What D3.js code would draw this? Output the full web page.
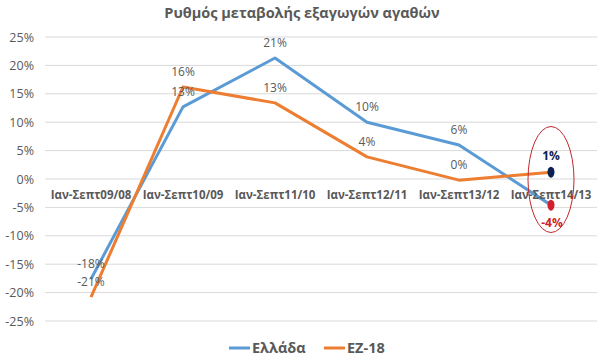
<!DOCTYPE html>
<html><head><meta charset="utf-8">
<script src="https://cdn.jsdelivr.net/npm/d3@7"></script>
<style>body{margin:0;background:#fff}svg{display:block;font-family:"Open Sans","Noto Sans",sans-serif}</style>
</head><body><svg id="c" width="600" height="357"></svg>
<script>
const categories = ["Ιαν-Σεπτ09/08","Ιαν-Σεπτ10/09","Ιαν-Σεπτ11/10","Ιαν-Σεπτ12/11","Ιαν-Σεπτ13/12","Ιαν-Σεπτ14/13"];
const greece = [-17.6, 12.7, 21.3, 10.0, 6.0, -4.6];
const ez18 = [-20.8, 16.2, 13.4, 3.9, -0.2, 1.2];
const greeceLabels = ["-18%","13%","21%","10%","6%","-4%"];
const ez18Labels = ["-21%","16%","13%","4%","0%","1%"];
const yTicks = [25,20,15,10,5,0,-5,-10,-15,-20,-25];
const seriesNames = ["Ελλάδα","EZ-18"];
const title = "Ρυθμός μεταβολής εξαγωγών αγαθών";

const svg = d3.select("#c");
const x = d3.scaleBand().domain(categories).range([45, 597]);
const y = d3.scaleLinear().domain([-25, 25]).range([321, 37]);
const cx = c => x(c) + x.bandwidth()/2;
const gray = "#595959";

// grid
svg.append("g").selectAll("line").data(yTicks).join("line")
  .attr("x1", 45).attr("x2", 597).attr("y1", d => y(d)).attr("y2", d => y(d))
  .attr("stroke", "#d9d9d9").attr("stroke-width", 1);

// y axis
const ya = svg.append("g").attr("transform", "translate(42,0)")
  .call(d3.axisLeft(y).tickValues(yTicks).tickSize(0).tickPadding(8).tickFormat(d => d + "%"));
ya.select(".domain").remove();
ya.selectAll("text").attr("fill", gray).attr("font-size", 12.5).attr("font-family", "Open Sans");

// title
svg.append("text").attr("x", 302).attr("y", 18).attr("text-anchor", "middle")
  .attr("font-size", 14.5).attr("font-weight", "bold").attr("fill", gray).text(title);

// lines
const line = d3.line().x((d,i) => cx(categories[i])).y(d => y(d));
svg.append("path").datum(greece).attr("d", line).attr("fill", "none")
  .attr("stroke", "#5B9BD5").attr("stroke-width", 3).attr("stroke-linejoin", "round");
svg.append("path").datum(ez18).attr("d", line).attr("fill", "none")
  .attr("stroke", "#ED7D31").attr("stroke-width", 3).attr("stroke-linejoin", "round");

// category labels
const xa = svg.append("g").attr("transform", `translate(0,${y(0)})`)
  .call(d3.axisBottom(x).tickSize(0).tickPadding(12));
xa.select(".domain").remove();
xa.selectAll("text").attr("fill", gray).attr("font-size", 11.5).attr("font-weight", "bold").attr("font-family", "Open Sans");

// data labels
const lbl = (vals, labels) => svg.append("g").selectAll("text")
  .data(vals.slice(0,5)).join("text")
  .attr("x", (d,i) => cx(categories[i])).attr("y", d => y(d) - 11)
  .attr("text-anchor", "middle").attr("font-size", 12).attr("fill", gray)
  .text((d,i) => labels[i]);
lbl(greece, greeceLabels);
lbl(ez18, ez18Labels);

// last point highlights
const lx = cx(categories[5]);
svg.append("ellipse").attr("cx", lx).attr("cy", 179.5).attr("rx", 23).attr("ry", 53)
  .attr("fill", "none").attr("stroke", "#C0282D").attr("stroke-width", 1);
svg.append("ellipse").attr("cx", lx).attr("cy", y(ez18[5])).attr("rx", 3.5).attr("ry", 5.5).attr("fill", "#0B2150");
svg.append("ellipse").attr("cx", lx).attr("cy", y(greece[5])).attr("rx", 3.5).attr("ry", 5.5).attr("fill", "#D11F2C");
svg.append("text").attr("x", lx).attr("y", y(ez18[5]) - 12).attr("text-anchor", "middle")
  .attr("font-size", 12).attr("font-weight", "bold").attr("fill", "#0B2150").text(ez18Labels[5]);
svg.append("text").attr("x", lx + 1).attr("y", y(greece[5]) + 22).attr("text-anchor", "middle")
  .attr("font-size", 12).attr("font-weight", "bold").attr("fill", "#D11F2C").text(greeceLabels[5]);

// legend
const leg = [{n: seriesNames[0], c: "#5B9BD5", x: 229}, {n: seriesNames[1], c: "#ED7D31", x: 324}];
leg.forEach(l => {
  svg.append("line").attr("x1", l.x).attr("x2", l.x + 21).attr("y1", 348).attr("y2", 348)
    .attr("stroke", l.c).attr("stroke-width", 3);
  svg.append("text").attr("x", l.x + 23).attr("y", 353).attr("font-size", 14.5)
    .attr("font-weight", "bold").attr("fill", gray).text(l.n);
});
</script></body></html>
